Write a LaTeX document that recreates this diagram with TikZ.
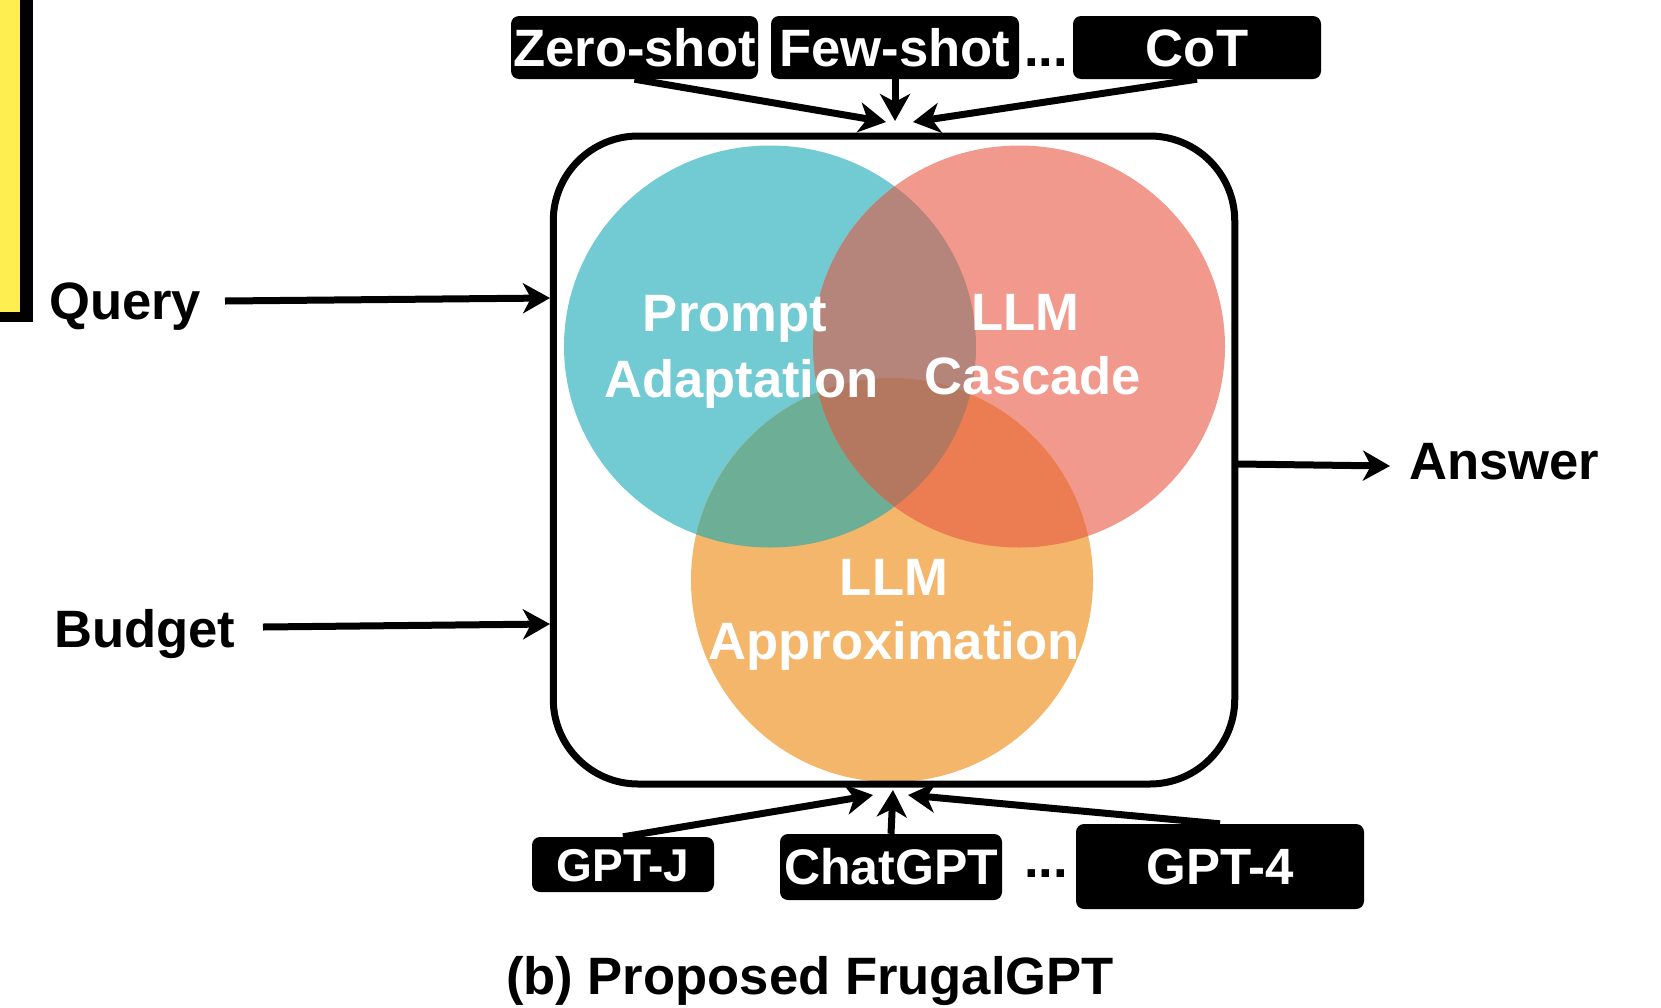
\documentclass[tikz,border=0pt]{standalone}
\usepackage{fontspec}
\setmainfont{Liberation Sans}
\usetikzlibrary{arrows.meta}
\definecolor{cteal}{HTML}{72CAD2}
\definecolor{cred}{HTML}{F1998D}
\definecolor{corange}{HTML}{F4B66A}
\definecolor{cTR}{HTML}{B5857B}
\definecolor{cTO}{HTML}{6CAE96}
\definecolor{cRO}{HTML}{EC7D53}
\definecolor{cTRO}{HTML}{B47860}
\definecolor{cyel}{HTML}{FFEE50}
\begin{document}
\begin{tikzpicture}[x=1pt,y=-1pt,
  lbl/.style={font=\fontsize{52.6}{63}\selectfont\bfseries, inner sep=0pt},
  vt/.style={lbl, text=white, anchor=base},
  blk/.style={fill=black, text=white, rounded corners=8pt, inner sep=0pt, text depth=0pt},
  arr/.style={line width=7pt, -{Stealth[length=27pt,width=30pt,inset=8pt]}}]
\useasboundingbox (0,0) rectangle (1661,1007);
% yellow box at left edge
\fill[cyel] (0,0) rectangle (20,312);
\fill[black] (20,0) rectangle (33,322);
\fill[black] (0,312) rectangle (20,322);
% Venn circles
\fill[cteal] (770,346.5) ellipse [x radius=206pt, y radius=201pt];
\fill[cred] (1019,346.5) ellipse [x radius=206pt, y radius=201pt];
\fill[corange] (892,580) ellipse [x radius=201pt, y radius=202pt];
\begin{scope}
  \clip (770,346.5) ellipse [x radius=206pt, y radius=201pt];
  \fill[cTR] (1019,346.5) ellipse [x radius=206pt, y radius=201pt];
  \fill[cTO] (892,580) ellipse [x radius=201pt, y radius=202pt];
\end{scope}
\begin{scope}
  \clip (1019,346.5) ellipse [x radius=206pt, y radius=201pt];
  \fill[cRO] (892,580) ellipse [x radius=201pt, y radius=202pt];
\end{scope}
\begin{scope}
  \clip (770,346.5) ellipse [x radius=206pt, y radius=201pt];
  \clip (1019,346.5) ellipse [x radius=206pt, y radius=201pt];
  \fill[cTRO] (892,580) ellipse [x radius=201pt, y radius=202pt];
\end{scope}
% Venn labels
\node[vt] (pa1) at (735,331.5) {Prompt};
\node[vt] (pa2) at (741.5,397) {Adaptation};
\node[vt] (lc1) at (1025.5,330.5) {LLM};
\node[vt] (lc2) at (1033,394) {Cascade};
\node[vt] (la1) at (894,595) {LLM};
\node[vt] (la2) at (894,659) {Approximation};
% main box
\node[draw, line width=7pt, rounded corners=85pt, minimum width=681.5pt, minimum height=648pt, inner sep=0pt] (box) at (894,460) {};
% top boxes
\node[blk, lbl, text height=37.7pt, minimum width=247pt, minimum height=63pt] (zero) at (634.5,47.5) {Zero-shot};
\node[blk, lbl, text height=37.7pt, minimum width=248pt, minimum height=63pt] (few) at (895,47.5) {Few-shot};
\node[lbl, anchor=base] (dtop) at (1046,66) {...};
\node[blk, lbl, text height=37.7pt, minimum width=248pt, minimum height=63pt] (cot) at (1197,47.5) {CoT};
% bottom boxes
\node[blk, font=\fontsize{46}{50}\selectfont\bfseries, text height=33pt, minimum width=182pt, minimum height=55pt] (gptj) at (623,864.5) {GPT-J};
\node[blk, font=\fontsize{50}{55}\selectfont\bfseries, text height=35.8pt, minimum width=222pt, minimum height=66pt] (chat) at (891,867) {ChatGPT};
\node[lbl, anchor=base] (dbot) at (1046,877) {...};
\node[blk, font=\fontsize{51}{55}\selectfont\bfseries, text height=36.5pt, minimum width=288pt, minimum height=85pt] (gpt4) at (1220,866.5) {GPT-4};
% side labels
\node[lbl, anchor=base west] (query) at (49,319) {Query};
\node[lbl, anchor=base west] (budget) at (54,647) {Budget};
\node[lbl, anchor=base west] (answer) at (1409,479) {Answer};
\node[lbl, anchor=base] (caption) at (810,994) {(b) Proposed FrugalGPT};
% connector end points
\coordinate (tz) at (886,122);
\coordinate (tf) at (895,121);
\coordinate (tc) at (913,122);
\coordinate (bj) at (873,795);
\coordinate (bc) at (893,790);
\coordinate (b4) at (908,795);
\coordinate (qS) at (225,301);
\coordinate (qE) at (550,298);
\coordinate (bS) at (263,627);
\coordinate (bE) at (550,624);
\coordinate (aS) at (1238,464);
\coordinate (aE) at (1390,466);
% arrows
\draw[arr] (zero.south) -- (tz);
\draw[arr] (few.south) -- (tf);
\draw[arr] (cot.south) -- (tc);
\draw[arr] (gptj.north) -- (bj);
\draw[arr] (chat.north) -- (bc);
\draw[arr] (gpt4.north) -- (b4);
\draw[arr] (qS) -- (qE);
\draw[arr] (bS) -- (bE);
\draw[arr] (aS) -- (aE);
\end{tikzpicture}
\end{document}
